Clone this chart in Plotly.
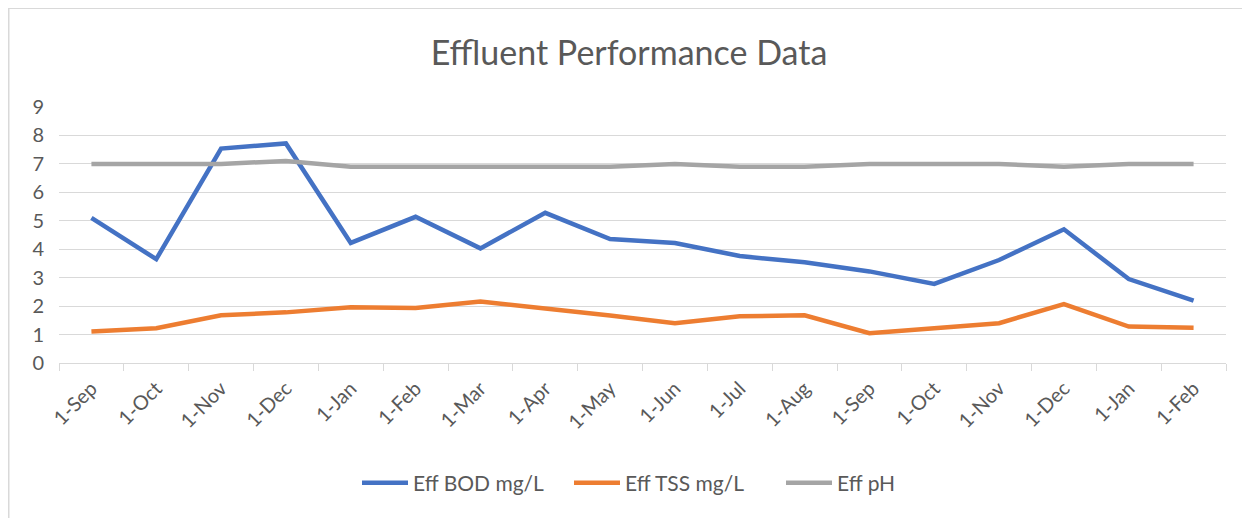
import plotly.graph_objects as go

dates = ["2019-09-01", "2019-10-01", "2019-11-01", "2019-12-01", "2020-01-01", "2020-02-01",
         "2020-03-01", "2020-04-01", "2020-05-01", "2020-06-01", "2020-07-01", "2020-08-01",
         "2020-09-01", "2020-10-01", "2020-11-01", "2020-12-01", "2021-01-01", "2021-02-01"]
tick_labels = ["1-Sep", "1-Oct", "1-Nov", "1-Dec", "1-Jan", "1-Feb", "1-Mar", "1-Apr", "1-May",
               "1-Jun", "1-Jul", "1-Aug", "1-Sep", "1-Oct", "1-Nov", "1-Dec", "1-Jan", "1-Feb"]
bod = [5.1, 3.65, 7.54, 7.72, 4.22, 5.14, 4.03, 5.28, 4.36, 4.22, 3.76, 3.54,
       3.22, 2.78, 3.62, 4.70, 2.95, 2.19]
tss = [1.11, 1.22, 1.68, 1.78, 1.96, 1.93, 2.16, 1.93, 1.67, 1.40, 1.64, 1.68,
       1.05, 1.22, 1.40, 2.07, 1.28, 1.24]
ph = [7.0, 7.0, 7.0, 7.1, 6.9, 6.9, 6.9, 6.9, 6.9, 7.0, 6.9, 6.9,
      7.0, 7.0, 7.0, 6.9, 7.0, 7.0]

FONT = "Lato"
TXT = "#595959"

fig = go.Figure()
for name, vals, col in [("Eff BOD mg/L", bod, "#4472C4"),
                        ("Eff TSS mg/L", tss, "#ED7D31"),
                        ("Eff pH", ph, "#A5A5A5")]:
    fig.add_trace(go.Scatter(x=dates, y=vals, name=name, mode="lines",
                             line=dict(color=col, width=4.5, shape="linear")))

OFF = 8  # page body margin
W, H = 1250 - OFF, 518 - OFF
ml, mr, mt, mb = 59 - OFF, 24, 107 - OFF, 155
pw, ph_ = W - ml - mr, H - mt - mb

def px2x(p):
    return (p - OFF - ml) / pw

def py2y(p):
    return (H - mb - (p - OFF)) / ph_

fig.update_layout(
    width=W, height=H,
    margin=dict(l=ml, r=mr, t=mt, b=mb),
    paper_bgcolor="white", plot_bgcolor="white",
    title=dict(text="Effluent Performance Data", x=0.5, xanchor="center",
               y=1 - (53 - OFF) / H, yanchor="middle",
               font=dict(family=FONT, size=34, color=TXT)),
    font=dict(family=FONT, color=TXT),
    xaxis=dict(type="category", tickvals=dates, ticktext=tick_labels,
               range=[-0.5, len(dates) - 0.5], tickangle=-45,
               tickson="boundaries", ticks="outside", ticklen=7, tickcolor="#D9D9D9",
               showgrid=False, showline=True, linecolor="#D9D9D9", linewidth=1,
               tickfont=dict(family=FONT, size=20, color=TXT), zeroline=False,
               ticklabelstandoff=5),
    yaxis=dict(range=[0, 9], dtick=1, showgrid=True, gridcolor="#D9D9D9", gridwidth=1,
               zeroline=False, showline=False, ticks="",
               tickfont=dict(family=FONT, size=20, color=TXT), ticklabelstandoff=14),
    legend=dict(orientation="h", x=px2x(357), xanchor="left", y=py2y(483), yanchor="middle",
                font=dict(family=FONT, size=21, color=TXT),
                entrywidth=151, entrywidthmode="pixels", itemwidth=46,
                tracegroupgap=0),
    showlegend=True,
)

fig.add_shape(type="line", xref="paper", yref="paper",
              x0=px2x(OFF + 0.5), x1=px2x(OFF + 0.5), y0=py2y(OFF), y1=py2y(H + OFF + 5),
              line=dict(color="#D9D9D9", width=2))
fig.add_shape(type="line", xref="paper", yref="paper",
              x0=px2x(OFF), x1=px2x(W + OFF + 5), y0=py2y(OFF + 0.5), y1=py2y(OFF + 0.5),
              line=dict(color="#D9D9D9", width=1))

fig.write_html("out.html")
